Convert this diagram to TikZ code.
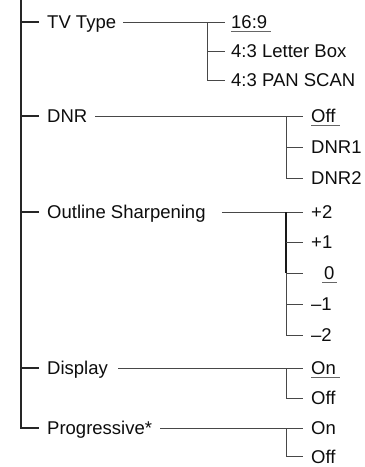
\documentclass[tikz,border=0pt]{standalone}
\usepackage{fontspec}
\setmainfont{Liberation Sans}
\begin{document}
\begin{tikzpicture}[x=1pt,y=-1pt,
  lbl/.style={inner sep=0pt,anchor=west,text height=13.3pt,text depth=0pt,font=\fontsize{18.5}{20}\selectfont,text=black!95},
  trunk/.style={line width=1.3pt,draw=black!85},
  conn/.style={line width=0.9pt,draw=black!72},
  ul/.style={line width=0.9pt,draw=black!60}]
\useasboundingbox (0,0) rectangle (365,467);
% level 1
\node[lbl] (tv) at (47,22) {TV Type};
\node[lbl] (dnr) at (47,116) {DNR};
\node[lbl] (os) at (47,212) {Outline Sharpening};
\node[lbl] (disp) at (47,368) {Display};
\node[lbl] (prog) at (47,428) {Progressive*};
% level 2
\node[lbl] (tv1) at (231,22) {16:9};
\node[lbl] (tv2) at (231,51) {4:3 Letter Box};
\node[lbl] (tv3) at (231,80) {4:3 PAN SCAN};
\node[lbl] (d1) at (311,116) {Off};
\node[lbl] (d2) at (311,147) {DNR1};
\node[lbl] (d3) at (311,178) {DNR2};
\node[lbl] (o1) at (311,212) {+2};
\node[lbl] (o2) at (311,242) {+1};
\node[lbl] (o3) at (324,273) {0};
\node[lbl] (o4) at (311,304) {–1};
\node[lbl] (o5) at (311,335) {–2};
\node[lbl] (s1) at (311,368) {On};
\node[lbl] (s2) at (311,398) {Off};
\node[lbl] (p1) at (311,428) {On};
\node[lbl] (p2) at (311,456.5) {Off};
% junctions
\coordinate (top) at (21,0);
\coordinate (tvj) at (207,22);
\coordinate (dj) at (286,116);
\coordinate (oj) at (286,212);
\coordinate (sj) at (286,368);
\coordinate (pj) at (286,428);
% trunk
\draw[trunk] (top) |- ([xshift=-8pt]prog.west);
\foreach \n in {tv,dnr,os,disp} \draw[trunk] ([xshift=-8pt]\n.west) -- (\n.west -| top);
% TV type
\draw[conn] ([xshift=7pt]tv.east) -- ([xshift=-6pt]tv1.west);
\draw[conn] (tvj) |- ([xshift=-6pt]tv3.west);
\draw[conn] (tvj |- tv2.west) -- ([xshift=-6pt]tv2.west);
% DNR
\draw[conn] ([xshift=8pt]dnr.east) -- ([xshift=-8pt]d1.west);
\draw[conn] (dj) |- ([xshift=-8pt]d3.west);
\draw[conn] (dj |- d2.west) -- ([xshift=-8pt]d2.west);
% Outline sharpening
\draw[conn] ([xshift=16pt]os.east) -- ([xshift=-8pt]o1.west);
\draw[conn] (oj) |- ([xshift=-8pt]o5.west);
\draw[line width=1.4pt,draw=black!90] (oj) -- (oj |- o3.west);
\draw[conn] (oj |- o2.west) -- ([xshift=-8pt]o2.west);
\draw[conn] (oj |- o3.west) -- ([xshift=-8pt]o4.west |- o3.west);
\draw[conn] (oj |- o4.west) -- ([xshift=-8pt]o4.west);
% Display
\draw[conn] ([xshift=10pt]disp.east) -- ([xshift=-8pt]s1.west);
\draw[conn] (sj) |- ([xshift=-8pt]s2.west);
% Progressive
\draw[conn] ([xshift=8pt]prog.east) -- ([xshift=-8pt]p1.west);
\draw[conn] (pj) |- ([xshift=-8pt]p2.west);
% underlines
\foreach \n in {tv1,d1,s1} \draw[ul] ([yshift=-2.5pt]\n.south west) -- ([xshift=4pt,yshift=-2.5pt]\n.south east);
\draw[ul] ([xshift=-2pt,yshift=-2.5pt]o3.south west) -- ([xshift=2pt,yshift=-2.5pt]o3.south east);
\end{tikzpicture}
\end{document}
